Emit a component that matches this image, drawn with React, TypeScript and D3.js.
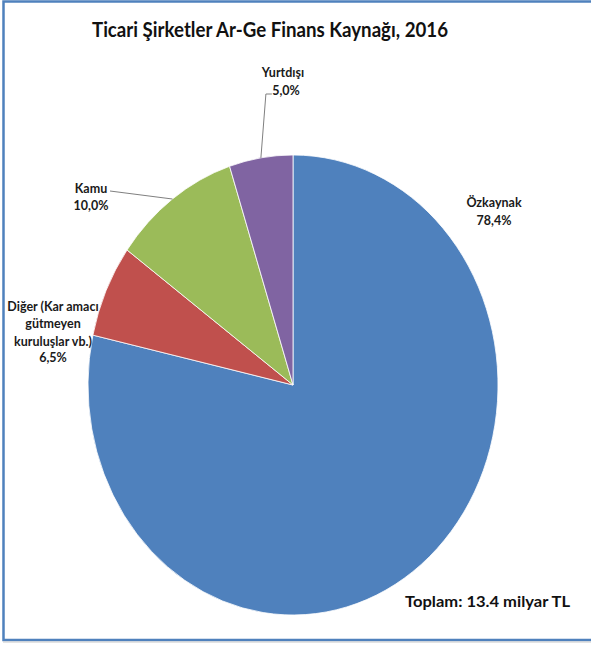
import React from "react";
import * as d3 from "d3";

const categories = ["Özkaynak", "Diğer (Kar amacı gütmeyen kuruluşlar vb.)", "Kamu", "Yurtdışı"];
const values = [78.4, 6.5, 10.0, 5.0];
const valueLabels = ["78,4%", "6,5%", "10,0%", "5,0%"];
const colors = ["#4F81BD", "#C0504D", "#9BBB59", "#8064A2"];
const title = "Ticari Şirketler Ar-Ge Finans Kaynağı, 2016";
const totalNote = "Toplam: 13.4 milyar TL";

const W = 591;
const H = 647;
const cx = 293;
const cy = 385;
const rx = 205;
const ry = 230;
const FONT = "Lato, 'Open Sans', sans-serif";

export default function App() {
  const data = categories.map((c, i) => ({ name: c, value: values[i], label: valueLabels[i], color: colors[i] }));
  const pie = d3.pie<any>().sort(null).value((d: any) => d.value);
  const arcs = pie(data);
  const arc = d3.arc<any>().innerRadius(0).outerRadius(rx);
  const sy = ry / rx;

  const edgePoint = (a: any) => {
    const m = (a.startAngle + a.endAngle) / 2;
    return [cx + Math.sin(m) * rx, cy - Math.cos(m) * ry];
  };

  const textStyle: any = { fontFamily: FONT, fontWeight: 700, fontSize: 12.5, fill: "#1a1a1a" };

  const [yx, yy] = edgePoint(arcs[3]);
  const [kx, ky] = edgePoint(arcs[2]);

  return (
    <svg width={W} height={H} style={{ position: "absolute", left: 0, top: 0, background: "#fff" }}>
      <rect x={0} y={0} width={W} height={H} fill="#fff" />
      <path d={`M${W + 5},1.5 H3.5 V640 H${W + 5}`} fill="none" stroke="#4F81BD" strokeWidth={2.5} />
      <line x1={3} x2={W + 5} y1={642} y2={642} stroke="#c8c8c8" strokeWidth={1} />
      <text x={270} y={37} textAnchor="middle" textLength={356} lengthAdjust="spacingAndGlyphs" style={{ fontFamily: FONT, fontWeight: 700, fontSize: 21, fill: "#111" }}>
        {title}
      </text>
      <g transform={`translate(${cx},${cy}) scale(1,${sy})`}>
        {arcs.map((a: any, i: number) => (
          <path key={i} d={arc(a) as string} fill={a.data.color} stroke="#fff" strokeWidth={0.8} vectorEffect="non-scaling-stroke" />
        ))}
      </g>
      {/* Yurtdışı */}
      <polyline points={`${yx},${yy} ${yx + 5},94 ${yx + 11},94`} fill="none" stroke="#808080" strokeWidth={1} />
      <text x={283} y={77} textAnchor="middle" style={textStyle}>Yurtdışı</text>
      <text x={286} y={95} textAnchor="middle" style={textStyle}>{valueLabels[3]}</text>
      {/* Kamu */}
      <polyline points={`${kx},${ky} 110,191`} fill="none" stroke="#808080" strokeWidth={1} />
      <text x={91} y={193} textAnchor="middle" style={textStyle}>Kamu</text>
      <text x={91} y={210} textAnchor="middle" style={textStyle}>{valueLabels[2]}</text>
      {/* Diğer */}
      <text x={53} y={311} textAnchor="middle" style={textStyle}>Diğer (Kar amacı</text>
      <text x={53} y={328} textAnchor="middle" style={textStyle}>gütmeyen</text>
      <text x={53} y={346} textAnchor="middle" style={textStyle}>kuruluşlar vb.)</text>
      <text x={53} y={362} textAnchor="middle" style={textStyle}>{valueLabels[1]}</text>
      {/* Özkaynak */}
      <text x={494} y={207} textAnchor="middle" style={textStyle}>Özkaynak</text>
      <text x={494} y={225} textAnchor="middle" style={textStyle}>{valueLabels[0]}</text>
      <text x={405} y={607} textLength={165} lengthAdjust="spacingAndGlyphs" style={{ fontFamily: FONT, fontWeight: 700, fontSize: 16, fill: "#111" }}>{totalNote}</text>
    </svg>
  );
}
